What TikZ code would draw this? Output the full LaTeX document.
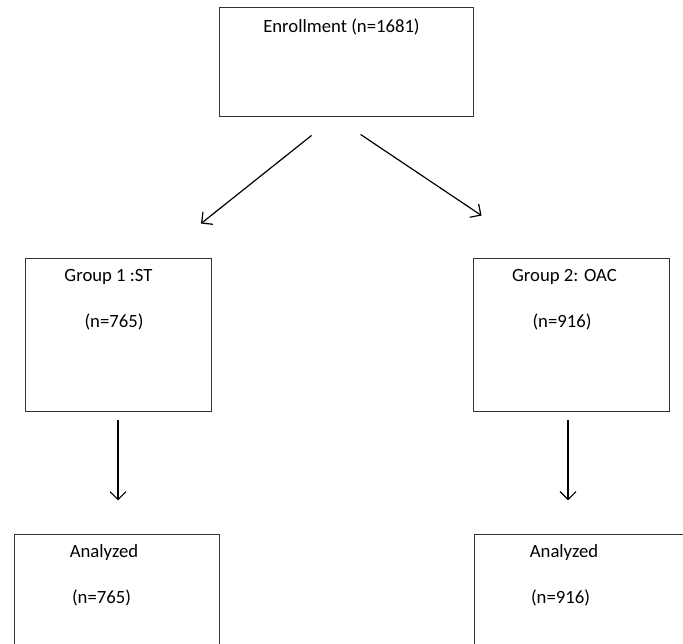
\documentclass[tikz,border=0pt]{standalone}
\usepackage{fontspec}
\setmainfont{Carlito}
\usetikzlibrary{calc}
\usetikzlibrary{arrows.meta}
\usetikzlibrary{positioning}

\begin{document}
\begin{tikzpicture}[x=1pt,y=-1pt]
% 1 = 1px, y grows downwards
    \def\LINEW{0.9pt}
    \def\GROUPW{186pt} %width of group boxes
    \def\GROUPH{153pt} %height of group boxes
    \def\ARROWLEN{80} %length of vertical arrows

    \tikzset{
      box/.style={draw=black!80, line width=\LINEW, inner sep=0pt},
      lbl/.style={font=\fontsize{18.7}{22}\selectfont, inner sep=0pt},
      flow/.style={-{Straight Barb[length=8pt,width=16pt]}, line width=1.2pt},
    }

    \clip (0,0) rectangle (683,644);

    % ENROLLMENT
    \node [box, minimum width=254pt, minimum height=109pt] (enroll) at (346,61.5) {};
    \node [lbl] (enrolltxt) at (341.5,27) {Enrollment (n=1681)};

    % FIRST GROUP
    \node [box, minimum width=\GROUPW, minimum height=\GROUPH] (groupA) at (118,334.5) {};
    \node [lbl] (groupAname) at (108.5,277) {Group 1 :ST};
    \node [lbl] (groupAn) at (114,321.5) {(n=765)};

    % SECOND GROUP
    \node [box, minimum width=196pt, minimum height=\GROUPH] (groupB) at (571,334.5) {};
    \node [lbl] (groupBname) at (564.5,277) {Group 2: OAC};
    \node [lbl] (groupBn) at (562,321.5) {(n=916)};

    % ANALYZED, cut off at the bottom
    \node [box, minimum width=205pt, minimum height=130pt] (anaA) at (116.5,599) {};
    \node [lbl] (anaAname) at (104,553) {Analyzed};
    \node [lbl] (anaAn) at (101.5,597.5) {(n=765)};

    \node [box, minimum width=220pt, minimum height=130pt] (anaB) at (584,599) {};
    \node [lbl] (anaBname) at (564,553) {Analyzed};
    \node [lbl] (anaBn) at (560.5,597.5) {(n=916)};

    % ARROWS FROM ENROLLMENT
    \coordinate (sA) at ($(enroll.south west)+(93,19)$);
    \coordinate (eA) at ($(groupA.north)+(83,-34)$);
    \coordinate (sB) at ($(enroll.south west)+(142,18)$);
    \coordinate (eB) at ($(groupB.north west)+(9,-42)$);
    \draw [flow] (sA) -- (eA);
    \draw [flow] (sB) -- (eB);

    % ARROWS TO ANALYZED
    \coordinate (dA) at ($(groupA.south)+(0,9)$);
    \coordinate (dB) at ($(groupB.south)+(-3,9)$);
    \draw [flow] (dA) -- ++(0,\ARROWLEN);
    \draw [flow] (dB) -- ++(0,\ARROWLEN);

\end{tikzpicture}
\end{document}
